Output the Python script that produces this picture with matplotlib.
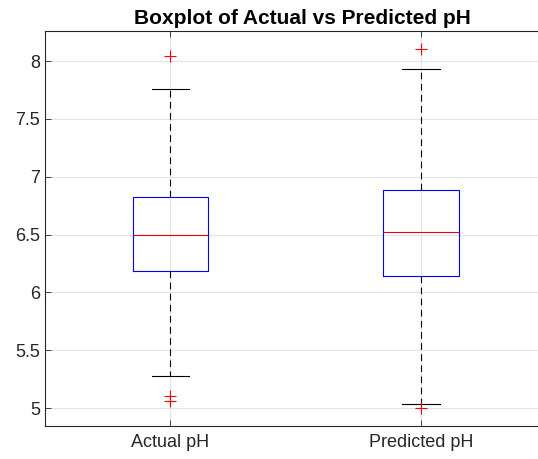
import matplotlib
matplotlib.use("Agg")
import matplotlib.pyplot as plt

plt.rcParams['font.family'] = ['Liberation Sans', 'DejaVu Sans']

# valeurs
labels = ['Actual pH', 'Predicted pH']
q1 = [6.185, 6.14]
med = [6.497, 6.525]
q3 = [6.828, 6.888]
whislo = [5.275, 5.035]
whishi = [7.757, 7.933]
fliers = [[8.04, 5.105, 5.06], [8.105, 5.0]]
yticks = [5, 5.5, 6, 6.5, 7, 7.5, 8]

stats = []
for i in range(len(labels)):
    stats.append({'label': labels[i], 'q1': q1[i], 'med': med[i], 'q3': q3[i],
                  'whislo': whislo[i], 'whishi': whishi[i], 'fliers': fliers[i]})

fig = plt.figure(figsize=(5.38, 4.59), dpi=100)
ax = fig.add_axes([0.0836, 0.0719, 0.932, 0.8606])

ax.bxp(stats, positions=[1, 2], widths=0.3, capwidths=0.15,
       boxprops=dict(color='#0000ff', linewidth=0.8),
       medianprops=dict(color='#ee0000', linewidth=0.8),
       whiskerprops=dict(color='black', linewidth=0.8, linestyle=(0, (6, 4))),
       capprops=dict(color='black', linewidth=0.8),
       flierprops=dict(marker='+', markeredgecolor='red', markersize=9, markeredgewidth=0.8))

ax.set_xlim(0.5, 2.5)
ax.set_ylim(4.845, 8.26)
ax.set_yticks(yticks)
ax.set_yticklabels([f'{t:g}' for t in yticks])
ax.set_xticks([1, 2])
ax.set_xticklabels(labels)
ax.grid(True, color='#e3e3e3', linewidth=0.8)
ax.set_axisbelow(True)
ax.tick_params(direction='in', top=True, right=False, labelsize=13,
               colors='#262626', length=4, width=0.6)
ax.tick_params(axis='x', pad=6)
for s in ax.spines.values():
    s.set_color('#262626')
    s.set_linewidth(0.8)
ax.spines['right'].set_visible(False)

ax.set_title('Boxplot of Actual vs Predicted pH', fontsize=15, fontweight='bold', pad=5, x=0.514)

fig.savefig('out.png', dpi=100)
